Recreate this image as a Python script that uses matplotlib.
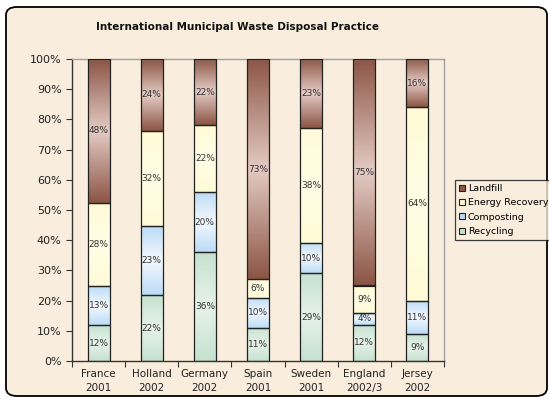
import numpy as np
import matplotlib
matplotlib.use("Agg")
import matplotlib.pyplot as plt
from matplotlib.patches import FancyBboxPatch
from matplotlib.lines import Line2D

# data (percent)
countries = ["France\n2001", "Holland\n2002", "Germany\n2002", "Spain\n2001",
             "Sweden\n2001", "England\n2002/3", "Jersey\n2002"]
recycling = [12, 22, 36, 11, 29, 12, 9]
composting = [13, 23, 20, 10, 10, 4, 11]
energy = [28, 32, 22, 6, 38, 9, 64]
landfill = [48, 24, 22, 73, 23, 75, 16]

series_names = ["Recycling", "Composting", "Energy Recovery", "Landfill"]
series_vals = [recycling, composting, energy, landfill]
# (edge colour, middle colour) for the vertical gradients
grad_cols = [("#c6e2cf", "#e6f2ea"),
             ("#bcdcf6", "#f4f9ff"),
             ("#fffbd6", "#fffde6"),
             ("#8c5646", "#e4cbc4")]

bg = "#f9eedd"

fig = plt.figure(figsize=(5.49, 4.0), dpi=100)
fig.patch.set_facecolor("white")
frame = FancyBboxPatch((6 / 549, 4 / 400), 541 / 549, 389 / 400,
                       boxstyle="round,pad=0,rounding_size=0.02",
                       transform=fig.transFigure, facecolor=bg,
                       edgecolor="black", linewidth=1.3, zorder=-10)
fig.patches.append(frame)

ax = fig.add_axes([72 / 549, 1 - 361 / 400, 372 / 549, 302 / 400])
ax.set_facecolor("none")

def hexrgb(h):
    return np.array(matplotlib.colors.to_rgb(h))

def gradient(c_edge, c_mid, n=64):
    t = np.linspace(-1, 1, n)
    w = np.abs(t)[:, None]
    col = hexrgb(c_mid) * (1 - w) + hexrgb(c_edge) * w
    return col[:, None, :]

x = np.arange(len(countries))
width = 0.414
totals = np.sum(np.array(series_vals), axis=0)
bottom = np.zeros(len(countries))
for vals, (ce, cm) in zip(series_vals, grad_cols):
    frac = np.array(vals) / totals
    img = gradient(ce, cm)
    for i in range(len(countries)):
        b, t = bottom[i], bottom[i] + frac[i]
        ax.imshow(img, extent=[x[i] - width / 2, x[i] + width / 2, b, t],
                  aspect="auto", zorder=2, interpolation="bilinear")
        ax.text(x[i], (b + t) / 2, f"{vals[i]}%", ha="center", va="center",
                fontsize=6.5, color="#333333", zorder=4)
    ax.bar(x, frac, width, bottom=bottom, facecolor="none",
           edgecolor="#222222", linewidth=0.9, zorder=3)
    bottom += frac

ax.set_xlim(-0.5, len(countries) - 0.5)
ax.set_ylim(0, 1)
ax.set_yticks(np.arange(0, 1.01, 0.1))
ax.set_yticklabels([f"{v}%" for v in range(0, 101, 10)], fontsize=8,
                   color="#222222")
ax.set_xticks(np.arange(-0.5, len(countries), 1.0))
ax.set_xticklabels([])
ax.set_xticks(x, minor=True)
ax.set_xticklabels(countries, minor=True, fontsize=7.5, color="#222222",
                   linespacing=1.5)
ax.tick_params(axis="x", which="minor", length=0, pad=6)
ax.tick_params(axis="x", which="major", length=4, direction="out",
               color="#333333")
ax.tick_params(axis="y", length=4, direction="out", color="#333333")
for s in ["left", "bottom"]:
    ax.spines[s].set_color("#333333")
    ax.spines[s].set_linewidth(1.0)
for s in ["top", "right"]:
    ax.spines[s].set_color("#a0a0a0")
    ax.spines[s].set_linewidth(1.0)

fig.text(237 / 549, 1 - 27 / 400, "International Municipal Waste Disposal Practice",
         ha="center", va="center", fontsize=7.5, fontweight="bold",
         color="#111111")

handles = []
for name, (ce, cm) in zip(series_names[::-1], grad_cols[::-1]):
    handles.append(Line2D([], [], linestyle="none", marker="s", markersize=4.5,
                          markerfacecolor=ce, markeredgecolor="#222222",
                          markeredgewidth=0.8, label=name))
leg = fig.legend(handles=handles, loc="upper left",
                 bbox_to_anchor=(455 / 549, 1 - 180 / 400),
                 fontsize=6.8, frameon=True, fancybox=False,
                 handlelength=0.6, handletextpad=0.3, labelspacing=0.55,
                 borderpad=0.45, borderaxespad=0)
leg.get_frame().set_edgecolor("#111111")
leg.get_frame().set_facecolor(bg)
leg.get_frame().set_linewidth(0.9)

fig.savefig("out.png", dpi=100)
